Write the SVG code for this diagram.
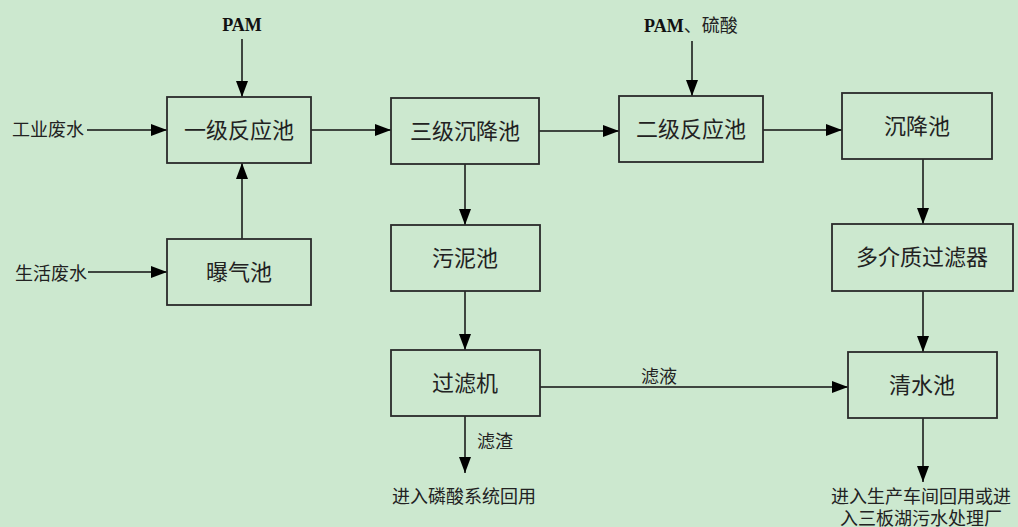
<svg xmlns="http://www.w3.org/2000/svg" width="1018" height="527" viewBox="0 0 1018 527">
<style>
.box{fill:none;stroke:#2a2a2a;stroke-width:1.8}
.c{fill:none;stroke:#111;stroke-width:1.5}
.t{font-family:"Liberation Serif","Noto Sans CJK SC",serif;font-size:22px;fill:#222;text-anchor:middle}
.s{font-family:"Liberation Serif","Noto Sans CJK SC",serif;font-size:18px;fill:#222}
.b{font-family:"Liberation Serif","Noto Sans CJK SC",serif;font-size:18px;font-weight:bold;fill:#111}
</style>
<defs>
<marker id="a" markerWidth="16" markerHeight="12" refX="16" refY="6" orient="auto" markerUnits="userSpaceOnUse"><path d="M0,0 L16,6 L0,12 z" fill="#000"/></marker>
</defs>
<rect width="1018" height="527" fill="#CCE8CF"/>
<g id="connectors">
<line class="c" x1="242" y1="39" x2="242" y2="97" marker-end="url(#a)"/>
<line class="c" x1="87" y1="130" x2="167" y2="130" marker-end="url(#a)"/>
<line class="c" x1="88" y1="272" x2="167" y2="272" marker-end="url(#a)"/>
<line class="c" x1="242" y1="239" x2="242" y2="163" marker-end="url(#a)"/>
<line class="c" x1="311" y1="130" x2="391" y2="130" marker-end="url(#a)"/>
<line class="c" x1="539" y1="131" x2="619" y2="131" marker-end="url(#a)"/>
<line class="c" x1="692" y1="41" x2="692" y2="96" marker-end="url(#a)"/>
<line class="c" x1="763" y1="130" x2="842" y2="130" marker-end="url(#a)"/>
<line class="c" x1="923" y1="159" x2="923" y2="224" marker-end="url(#a)"/>
<line class="c" x1="923" y1="291" x2="923" y2="352" marker-end="url(#a)"/>
<line class="c" x1="465" y1="164" x2="465" y2="225" marker-end="url(#a)"/>
<line class="c" x1="465" y1="291" x2="465" y2="350" marker-end="url(#a)"/>
<line class="c" x1="540" y1="387" x2="848" y2="387" marker-end="url(#a)"/>
<line class="c" x1="465" y1="416" x2="465" y2="473" marker-end="url(#a)"/>
<line class="c" x1="923" y1="418" x2="923" y2="482" marker-end="url(#a)"/>
<text class="s" x="659" y="383" text-anchor="middle">滤液</text>
<text class="s" x="477" y="448">滤渣</text>
</g>
<g id="inputs">
<text class="b" x="242" y="31" text-anchor="middle">PAM</text>
<text x="644" y="32"><tspan class="b">PAM</tspan><tspan class="s">、硫酸</tspan></text>
<text class="s" x="84" y="136" text-anchor="end">工业废水</text>
<text class="s" x="87" y="280" text-anchor="end">生活废水</text>
</g>
<g id="n1"><rect class="box" x="167" y="97" width="144" height="66"/><text class="t" x="239" y="138">一级反应池</text></g>
<g id="n2"><rect class="box" x="167" y="239" width="144" height="66"/><text class="t" x="239" y="280">曝气池</text></g>
<g id="n3"><rect class="box" x="391" y="98" width="148" height="66"/><text class="t" x="465" y="139">三级沉降池</text></g>
<g id="n4"><rect class="box" x="619" y="96" width="144" height="66"/><text class="t" x="691" y="137">二级反应池</text></g>
<g id="n5"><rect class="box" x="842" y="93" width="150" height="66"/><text class="t" x="917" y="134">沉降池</text></g>
<g id="n6"><rect class="box" x="832" y="224" width="181" height="67"/><text class="t" x="922" y="265">多介质过滤器</text></g>
<g id="n7"><rect class="box" x="391" y="225" width="149" height="66"/><text class="t" x="465" y="266">污泥池</text></g>
<g id="n8"><rect class="box" x="391" y="350" width="149" height="66"/><text class="t" x="465" y="391">过滤机</text></g>
<g id="n9"><rect class="box" x="848" y="352" width="149" height="66"/><text class="t" x="922" y="393">清水池</text></g>
<g id="out1"><text class="s" x="464" y="503" text-anchor="middle">进入磷酸系统回用</text></g>
<g id="out2"><text class="s" x="921" y="503" text-anchor="middle">进入生产车间回用或进</text><text class="s" x="921" y="525" text-anchor="middle">入三板湖污水处理厂</text></g>
</svg>
